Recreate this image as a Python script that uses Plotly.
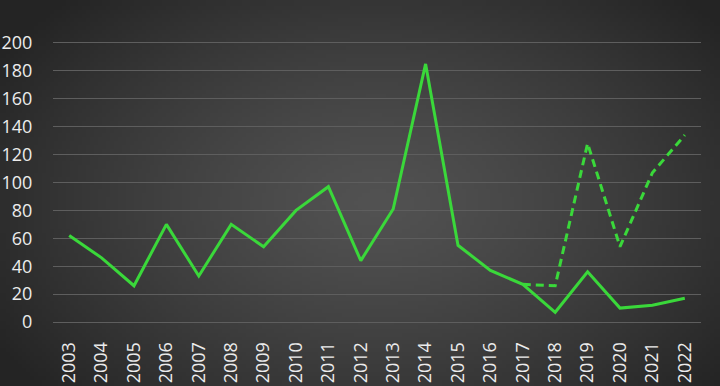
import base64, struct, zlib
import numpy as np
import plotly.graph_objects as go

years = [str(y) for y in range(2003, 2023)]
solid_vals = [62, 46, 26, 70, 33, 70, 54, 80, 97, 44, 81, 185, 55, 37, 27, 7, 36, 10, 12, 17]
dashed_vals = [None] * 14 + [27, 26, 128, 54, 107, 134]
y_ticks = [0, 20, 40, 60, 80, 100, 120, 140, 160, 180, 200]

W, H = 720, 386
ML, MR, MT, MB = 53, 19, 41, 62

# radial gradient background as PNG data URI
gw, gh = 180, 97
yy, xx = np.mgrid[0:gh, 0:gw]
cx, cy = gw * 0.52, gh * 0.52
d = np.sqrt(((xx - cx) / (gw * 0.62)) ** 2 + ((yy - cy) / (gh * 0.75)) ** 2)
d = np.clip(d, 0, 1)
c = (82 - (82 - 36) * d ** 1.3).astype(np.uint8)
raw = b"".join(b"\x00" + bytes(np.stack([row, row, row], axis=1).flatten()) for row in c)
def chunk(t, data):
    return struct.pack(">I", len(data)) + t + data + struct.pack(">I", zlib.crc32(t + data) & 0xffffffff)
png = b"\x89PNG\r\n\x1a\n" + chunk(b"IHDR", struct.pack(">IIBBBBB", gw, gh, 8, 2, 0, 0, 0)) + chunk(b"IDAT", zlib.compress(raw)) + chunk(b"IEND", b"")
uri = "data:image/png;base64," + base64.b64encode(png).decode()

pw, ph = W - ML - MR, H - MT - MB
green = "#3ad83a"

fig = go.Figure()
fig.add_trace(go.Scatter(x=years, y=dashed_vals, mode="lines",
                         line=dict(color=green, width=3, dash="8px,5px"), connectgaps=False))
fig.add_trace(go.Scatter(x=years, y=solid_vals, mode="lines",
                         line=dict(color=green, width=3)))

fig.add_layout_image(dict(source=uri, xref="paper", yref="paper",
                          x=-ML / pw, y=1 + MT / ph, sizex=W / pw, sizey=H / ph,
                          xanchor="left", yanchor="top", sizing="stretch", layer="below"))

font = dict(family="Open Sans, sans-serif", size=18, color="#ececec")
fig.update_layout(
    width=W, height=H, margin=dict(l=ML, r=MR, t=MT, b=MB, autoexpand=False),
    paper_bgcolor="#2a2a2a", plot_bgcolor="rgba(0,0,0,0)",
    showlegend=False, font=font,
    xaxis=dict(type="category", tickangle=-90, showgrid=False, zeroline=False,
               showline=False, ticks="outside", ticklen=10, tickcolor="rgba(0,0,0,0)",
               tickfont=font, range=[-0.5, 19.5], automargin=False),
    yaxis=dict(range=[-1.4, 201.4], tickvals=y_ticks, showgrid=True, gridcolor="#5e5e5e",
               gridwidth=1, zeroline=False, showline=False, ticks="outside", ticklen=16,
               tickcolor="rgba(0,0,0,0)", tickfont=font, automargin=False),
)
fig.write_html("out.html")
